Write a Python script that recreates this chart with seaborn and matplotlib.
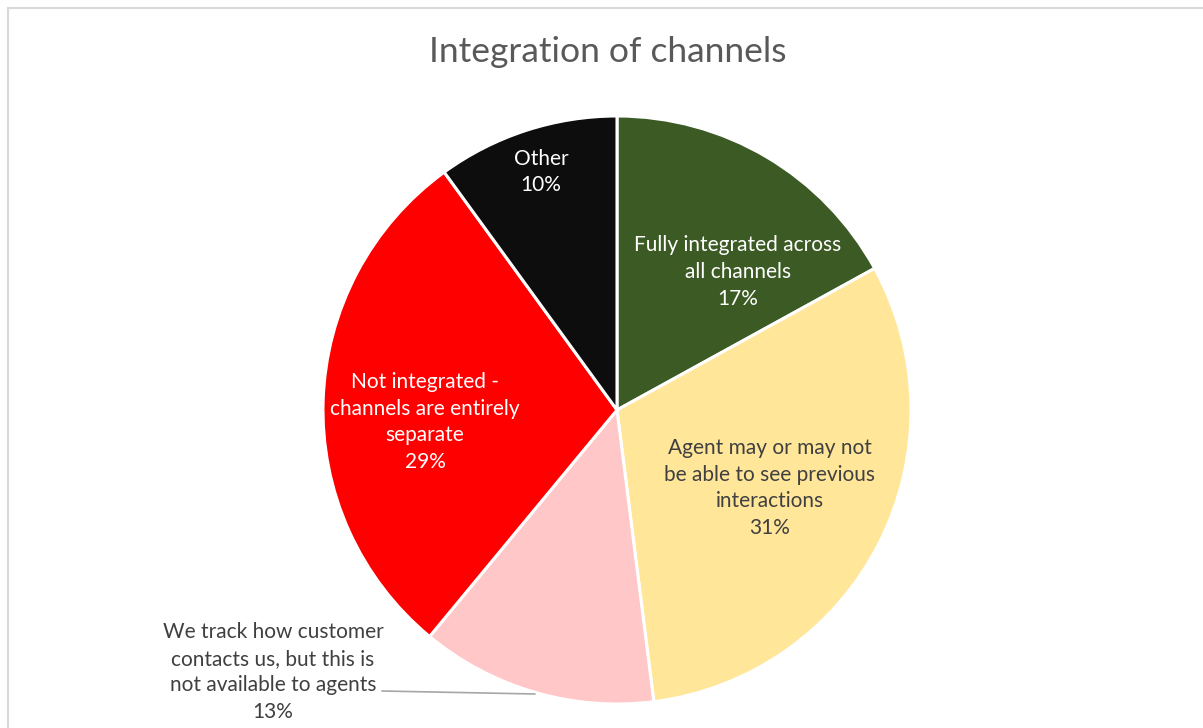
import matplotlib
matplotlib.use("Agg")
import matplotlib.pyplot as plt
from matplotlib.patches import Rectangle
import seaborn as sns

# Survey shares (percent), clockwise from 12 o'clock
categories = [
    "Fully integrated across\nall channels",
    "Agent may or may not\nbe able to see previous\ninteractions",
    "We track how customer\ncontacts us, but this is\nnot available to agents",
    "Not integrated -\nchannels are entirely\nseparate",
    "Other",
]
shares = [17, 31, 13, 29, 10]
colors = ["#3B5A24", "#FFE699", "#FFC7C7", "#FF0000", "#0D0D0D"]
text_colors = ["white", "#404040", "#404040", "white", "white"]

sns.set_theme(style="white")
plt.rcParams["font.family"] = ["Lato", "DejaVu Sans"]

W, H = 1203, 728
fig = plt.figure(figsize=(W / 100, H / 100), dpi=100)
ax = fig.add_axes([0, 0, 1, 1])

cx, cy, r = 617, H - 410, 294
ax.pie(
    shares,
    colors=colors,
    startangle=90,
    counterclock=False,
    center=(cx, cy),
    radius=r,
    frame=True,
    wedgeprops=dict(edgecolor="white", linewidth=2.2),
)
ax.set_xlim(0, W)
ax.set_ylim(0, H)
ax.set_aspect("equal")
ax.axis("off")

# label centres in pixel space (x, y from top)
label_pos = [(738, 272), (770, 488), (273, 672), (425, 422), (541, 172)]
for name, val, (px, py), tc in zip(categories, shares, label_pos, text_colors):
    ax.text(px, H - py, f"{name}\n{val}%", ha="center", va="center",
            color=tc, fontsize=15, linespacing=1.42)

# leader line for the outside label
ax.plot([382, 535], [H - 691, H - 694], color="#A6A6A6", linewidth=1.2)

ax.text(608, H - 52, "Integration of channels", ha="center", va="center",
        fontsize=25.5, color="#595959")

# chart-area border
fig.patches.append(Rectangle((8, -20), W + 20, H - 8 + 20, transform=None,
                             fill=False, edgecolor="#D9D9D9", linewidth=1.5))

fig.savefig("out.png", dpi=100)
